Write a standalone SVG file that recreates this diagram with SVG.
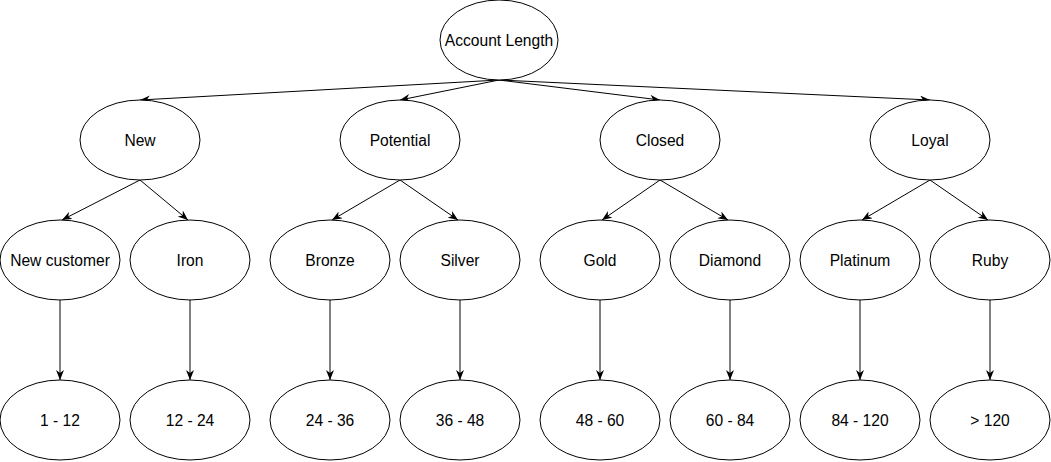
<svg xmlns="http://www.w3.org/2000/svg" width="1051" height="462" viewBox="0 0 1051 462">
<style>
.n ellipse{fill:#fff;stroke:#000;stroke-width:1}
.n text{font-family:"Liberation Sans",Arial,sans-serif;font-size:15.6px;fill:#000;text-anchor:middle}
.e line{stroke:#000;stroke-width:1;marker-end:url(#arr)}
</style>
<defs>
<marker id="arr" markerUnits="userSpaceOnUse" markerWidth="10" markerHeight="8" refX="10" refY="4" orient="auto">
<path d="M0,0 L10,4 L0,8 L3,4 Z" fill="#000"/>
</marker>
</defs>
<g id="edges" class="e">
<line x1="499" y1="80" x2="140" y2="100"/>
<line x1="499" y1="80" x2="400" y2="100"/>
<line x1="499" y1="80" x2="660" y2="100"/>
<line x1="499" y1="80" x2="930" y2="100"/>
<line x1="140" y1="180" x2="62" y2="220"/>
<line x1="140" y1="180" x2="188" y2="220"/>
<line x1="400" y1="180" x2="332" y2="220"/>
<line x1="400" y1="180" x2="458" y2="220"/>
<line x1="660" y1="180" x2="602" y2="220"/>
<line x1="660" y1="180" x2="728" y2="220"/>
<line x1="930" y1="180" x2="862" y2="220"/>
<line x1="930" y1="180" x2="988" y2="220"/>
<line x1="60" y1="300" x2="60" y2="380"/>
<line x1="190" y1="300" x2="190" y2="380"/>
<line x1="330" y1="300" x2="330" y2="380"/>
<line x1="460" y1="300" x2="460" y2="380"/>
<line x1="600" y1="300" x2="600" y2="380"/>
<line x1="730" y1="300" x2="730" y2="380"/>
<line x1="860" y1="300" x2="860" y2="380"/>
<line x1="990" y1="300" x2="990" y2="380"/>
</g>
<g id="account-length" class="n"><ellipse cx="499" cy="40" rx="59" ry="40"/><text x="499" y="46">Account Length</text></g>
<g id="new" class="n"><ellipse cx="140" cy="140" rx="60" ry="40"/><text x="140" y="146">New</text></g>
<g id="potential" class="n"><ellipse cx="400" cy="140" rx="60" ry="40"/><text x="400" y="146">Potential</text></g>
<g id="closed" class="n"><ellipse cx="660" cy="140" rx="60" ry="40"/><text x="660" y="146">Closed</text></g>
<g id="loyal" class="n"><ellipse cx="930" cy="140" rx="60" ry="40"/><text x="930" y="146">Loyal</text></g>
<g id="new-customer" class="n"><ellipse cx="60" cy="260" rx="60" ry="40"/><text x="60" y="266">New customer</text></g>
<g id="iron" class="n"><ellipse cx="190" cy="260" rx="60" ry="40"/><text x="190" y="266">Iron</text></g>
<g id="bronze" class="n"><ellipse cx="330" cy="260" rx="60" ry="40"/><text x="330" y="266">Bronze</text></g>
<g id="silver" class="n"><ellipse cx="460" cy="260" rx="60" ry="40"/><text x="460" y="266">Silver</text></g>
<g id="gold" class="n"><ellipse cx="600" cy="260" rx="60" ry="40"/><text x="600" y="266">Gold</text></g>
<g id="diamond" class="n"><ellipse cx="730" cy="260" rx="60" ry="40"/><text x="730" y="266">Diamond</text></g>
<g id="platinum" class="n"><ellipse cx="860" cy="260" rx="60" ry="40"/><text x="860" y="266">Platinum</text></g>
<g id="ruby" class="n"><ellipse cx="990" cy="260" rx="60" ry="40"/><text x="990" y="266">Ruby</text></g>
<g id="r1-12" class="n"><ellipse cx="60" cy="420" rx="60" ry="40"/><text x="60" y="426">1 - 12</text></g>
<g id="r12-24" class="n"><ellipse cx="190" cy="420" rx="60" ry="40"/><text x="190" y="426">12 - 24</text></g>
<g id="r24-36" class="n"><ellipse cx="330" cy="420" rx="60" ry="40"/><text x="330" y="426">24 - 36</text></g>
<g id="r36-48" class="n"><ellipse cx="460" cy="420" rx="60" ry="40"/><text x="460" y="426">36 - 48</text></g>
<g id="r48-60" class="n"><ellipse cx="600" cy="420" rx="60" ry="40"/><text x="600" y="426">48 - 60</text></g>
<g id="r60-84" class="n"><ellipse cx="730" cy="420" rx="60" ry="40"/><text x="730" y="426">60 - 84</text></g>
<g id="r84-120" class="n"><ellipse cx="860" cy="420" rx="60" ry="40"/><text x="860" y="426">84 - 120</text></g>
<g id="r120" class="n"><ellipse cx="990" cy="420" rx="60" ry="40"/><text x="990" y="426">&gt; 120</text></g>
</svg>
